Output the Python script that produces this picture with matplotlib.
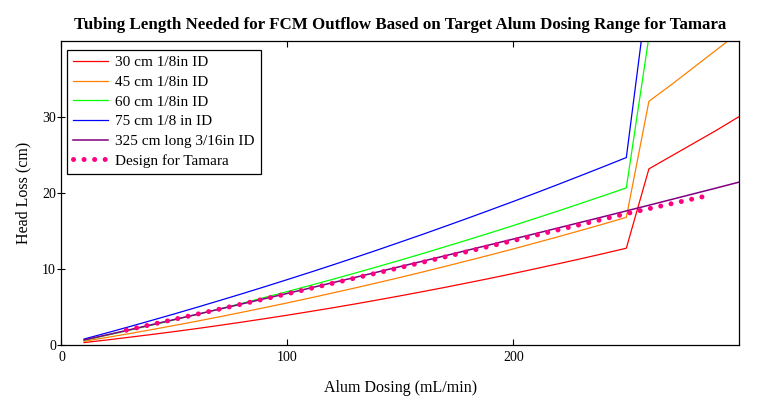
import numpy as np
import matplotlib.pyplot as plt

# alum dosing (mL/min)
dosing = [10, 20, 30, 40, 50, 60, 70, 80, 90, 100, 110, 120, 130, 140, 150,
          160, 170, 180, 190, 200, 210, 220, 230, 240, 250, 260, 270, 280, 290, 300]

# head loss (cm) for each tube
hl_30 = [0.32, 0.66, 1.02, 1.39, 1.77, 2.17, 2.59, 3.02, 3.47, 3.93, 4.41, 4.90, 5.41, 5.94, 6.48,
         7.04, 7.61, 8.20, 8.80, 9.42, 10.06, 10.71, 11.37, 12.05, 12.75, 23.2, 24.9, 26.6, 28.3, 30.1]
hl_45 = [0.49, 0.99, 1.50, 2.03, 2.58, 3.14, 3.72, 4.32, 4.93, 5.55, 6.19, 6.85, 7.52, 8.21, 8.91,
         9.63, 10.37, 11.12, 11.88, 12.66, 13.46, 14.27, 15.10, 15.95, 16.81, 32.1, 34.3, 36.6, 38.9, 41.2]
hl_60 = [0.63, 1.28, 1.94, 2.62, 3.32, 4.03, 4.76, 5.50, 6.27, 7.04, 7.84, 8.65, 9.48, 10.32, 11.18,
         12.06, 12.96, 13.87, 14.79, 15.74, 16.70, 17.67, 18.67, 19.67, 20.70, 40.6, 43.5, 46.5, 49.6, 52.8]
hl_75 = [0.79, 1.59, 2.41, 3.25, 4.10, 4.97, 5.86, 6.76, 7.68, 8.62, 9.57, 10.54, 11.53, 12.53, 13.56,
         14.59, 15.65, 16.72, 17.81, 18.91, 20.03, 21.17, 22.33, 23.50, 24.69, 47.9, 51.3, 54.8, 58.4, 62.1]
hl_325 = [0.67, 1.33, 2.00, 2.68, 3.36, 4.04, 4.73, 5.42, 6.11, 6.80, 7.50, 8.21, 8.91, 9.62, 10.34,
          11.05, 11.77, 12.50, 13.23, 13.96, 14.69, 15.43, 16.17, 16.91, 17.66, 18.41, 19.17, 19.93, 20.69, 21.46]

# design line for Tamara
design_x = [28.7, 100, 150, 200, 250, 288]
design_y = [1.95, 6.75, 10.2, 13.75, 17.3, 19.8]

plt.rcParams['font.family'] = ['Liberation Serif', 'DejaVu Serif']

fig = plt.figure(figsize=(7.62, 4.03), dpi=100)
ax = fig.add_axes([0.0807, 0.1439, 0.8895, 0.7536])

lw = 0.9
ax.plot(dosing, hl_30, color='#ff0000', lw=lw, label='30 cm 1/8in ID')
ax.plot(dosing, hl_45, color='#ff8000', lw=lw, label='45 cm 1/8in ID')
ax.plot(dosing, hl_60, color='#00ff00', lw=lw, label='60 cm 1/8in ID')
ax.plot(dosing, hl_75, color='#0000ff', lw=lw, label='75 cm 1/8 in ID')
ax.plot(dosing, hl_325, color='#800080', lw=1.1, label='325 cm long 3/16in ID')
ax.plot(design_x, design_y, color='#ff0080', lw=3.6, linestyle=(0, (0.01, 2.1)),
        dash_capstyle='round', label='Design for Tamara')

ax.set_xlim(0, 300)
ax.set_ylim(0, 40)
ax.set_xticks([0, 100, 200])
ax.set_yticks([0, 10, 20, 30])
ax.tick_params(axis='x', direction='in', length=4, width=0.8, labelsize=10, pad=4,
               top=True)
ax.tick_params(axis='y', direction='inout', length=6, width=0.8, labelsize=10, pad=1)
ax.tick_params(axis='y', which='major', right=True)
for t in ax.yaxis.get_ticklines()[1::2]:
    t.set_marker(0)
    t.set_markersize(-4)
for s in ax.spines.values():
    s.set_linewidth(0.9)

ax.set_xlabel('Alum Dosing (mL/min)', fontsize=11.5, labelpad=12)
ax.set_ylabel('Head Loss (cm)', fontsize=11.5, labelpad=8)
ax.set_title('Tubing Length Needed for FCM Outflow Based on Target Alum Dosing Range for Tamara',
             fontsize=12.2, fontweight='bold', pad=9)

leg = ax.legend(loc='upper left', bbox_to_anchor=(0.008, 0.973), fontsize=11,
                fancybox=False, framealpha=1, edgecolor='black', borderpad=0.4,
                labelspacing=0.39, handlelength=2.3, handletextpad=0.45, borderaxespad=0)
leg.get_frame().set_linewidth(0.9)

fig.savefig('out.png', dpi=100)
